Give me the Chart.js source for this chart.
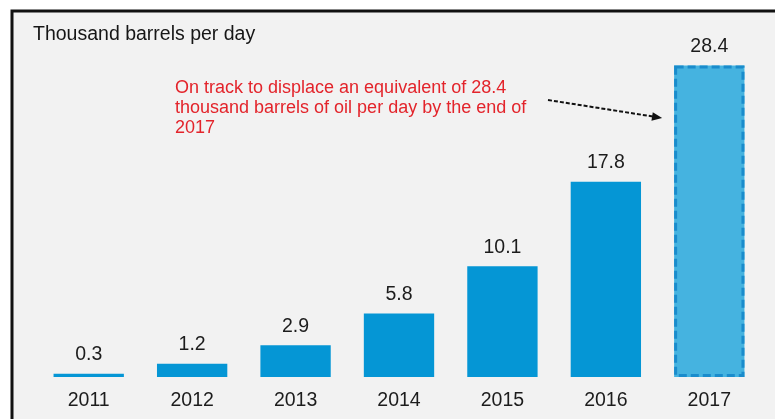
<!DOCTYPE html>
<html>
<head>
<meta charset="utf-8">
<script src="https://cdn.jsdelivr.net/npm/chart.js@4/dist/chart.umd.min.js"></script>
<style>
  html, body { margin: 0; padding: 0; background: #ffffff; }
  #wrap { width: 775px; height: 419px; position: relative; }
</style>
</head>
<body>
<div id="wrap"><canvas id="barChart" width="775" height="419"></canvas></div>
<script>
// barrels of oil displaced per day, thousands
const years = ['2011', '2012', '2013', '2014', '2015', '2016', '2017'];
const displaced = [0.3, 1.2, 2.9, 5.8, 10.1, 17.8, 28.4];
const unitLabel = 'Thousand barrels per day';
const noteLines = [
    'On track to displace an equivalent of 28.4',
    'thousand barrels of oil per day by the end of',
    '2017'
];
const projectedIndex = 6; // last year is a projection

const FONT = '"Liberation Sans", Arial, sans-serif';
const solidBlue = '#0596d5';
const lightBlue = '#45b3e0';
const dashBlue = '#1a8ccc';

// panel background + frame, drawn before everything
const panelPlugin = {
    id: 'panel',
    beforeDraw(chart) {
        const ctx = chart.ctx;
        ctx.save();
        ctx.fillStyle = '#ffffff';
        ctx.fillRect(0, 0, chart.width, chart.height);
        ctx.fillStyle = '#f2f2f2';
        ctx.fillRect(12, 11, chart.width - 12, chart.height - 11);
        ctx.strokeStyle = '#111111';
        ctx.lineWidth = 3;
        ctx.beginPath();
        ctx.moveTo(12, chart.height);
        ctx.lineTo(12, 11);
        ctx.lineTo(chart.width, 11);
        ctx.stroke();
        ctx.restore();
    }
};

// value labels, dashed outline on projected bar, note and arrow
const extrasPlugin = {
    id: 'extras',
    afterDatasetsDraw(chart) {
        const ctx = chart.ctx;
        const meta = chart.getDatasetMeta(0);
        ctx.save();

        // dashed outline for the projected year
        const pb = meta.data[projectedIndex];
        const half = pb.width / 2;
        ctx.strokeStyle = dashBlue;
        ctx.lineWidth = 3;
        ctx.setLineDash([8, 4]);
        ctx.strokeRect(pb.x - half + 1.5, pb.y + 1.5, pb.width - 3, pb.base - pb.y - 3);
        ctx.setLineDash([]);

        // value above each bar
        ctx.fillStyle = '#1c1c1c';
        ctx.font = '19.5px ' + FONT;
        ctx.textAlign = 'center';
        ctx.textBaseline = 'middle';
        meta.data.forEach((bar, i) => {
            ctx.fillText(displaced[i].toFixed(1), bar.x, bar.y - 19);
        });

        // unit label top left
        ctx.textAlign = 'left';
        ctx.fillStyle = '#161616';
        ctx.fillText(unitLabel, 33, 35);

        // red note
        ctx.font = '18px ' + FONT;
        ctx.fillStyle = '#e3242b';
        noteLines.forEach((line, i) => {
            ctx.fillText(line, 175, 88 + i * 20);
        });

        // dashed arrow pointing at the projected bar
        const x1 = 548, y1 = 100;
        const x2 = pb.x - half - 12, y2 = 118;
        ctx.strokeStyle = '#111111';
        ctx.lineWidth = 2;
        ctx.setLineDash([4, 2]);
        ctx.beginPath();
        ctx.moveTo(x1, y1);
        ctx.lineTo(x2 - 8, y2 - 1.3);
        ctx.stroke();
        ctx.setLineDash([]);
        const ang = Math.atan2(y2 - y1, x2 - x1);
        ctx.fillStyle = '#111111';
        ctx.beginPath();
        ctx.moveTo(x2, y2);
        ctx.lineTo(x2 - 11 * Math.cos(ang - 0.4), y2 - 11 * Math.sin(ang - 0.4));
        ctx.lineTo(x2 - 11 * Math.cos(ang + 0.4), y2 - 11 * Math.sin(ang + 0.4));
        ctx.closePath();
        ctx.fill();

        ctx.restore();
    }
};

const ctx = document.getElementById('barChart').getContext('2d');
const chart = new Chart(ctx, {
    type: 'bar',
    data: {
        labels: years,
        datasets: [{
            label: unitLabel,
            data: displaced,
            backgroundColor: years.map((_, i) => i === projectedIndex ? lightBlue : solidBlue),
            borderWidth: 0,
            barPercentage: 0.68,
            categoryPercentage: 1.0
        }]
    },
    options: {
        responsive: false,
        animation: false,
        layout: { padding: { left: 37, right: 14, top: 26, bottom: 0 } },
        plugins: {
            legend: { display: false },
            tooltip: { enabled: false }
        },
        scales: {
            x: {
                grid: { display: false, drawTicks: false },
                border: { display: false },
                ticks: {
                    color: '#1c1c1c',
                    padding: 12,
                    font: { family: FONT, size: 19.5 }
                },
                afterFit(scale) { scale.height = 42; }
            },
            y: {
                display: false,
                min: 0,
                max: 32
            }
        }
    },
    plugins: [panelPlugin, extrasPlugin]
});
</script>
</body>
</html>
